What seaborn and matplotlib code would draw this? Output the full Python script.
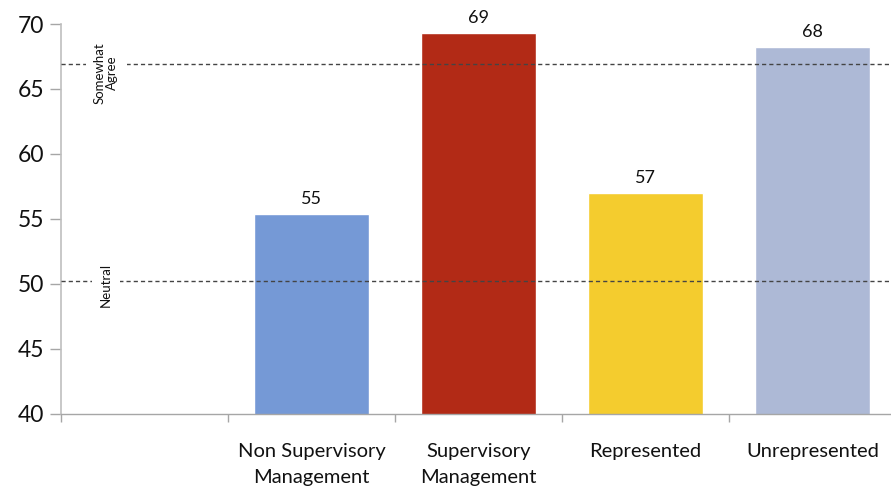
import matplotlib
matplotlib.use("Agg")
import matplotlib.pyplot as plt
import seaborn as sns
import pandas as pd

# Mean agreement score by employee group
categories = ["", "Non Supervisory\nManagement", "Supervisory\nManagement",
              "Represented", "Unrepresented"]
groups = ["Non Supervisory\nManagement", "Supervisory\nManagement",
          "Represented", "Unrepresented"]
scores = [55.4, 69.3, 57.0, 68.2]
bar_colors = ["#7599D6", "#B22A16", "#F4CC2E", "#ADB9D6"]

# Reference levels on the agreement scale
ref_levels = [66.9, 50.2]
ref_labels = ["Somewhat\nAgree", "Neutral"]

y_ticks = [40, 45, 50, 55, 60, 65, 70]

sns.set_theme(style="white")
plt.rcParams["font.family"] = ["Lato", "DejaVu Sans"]

df = pd.DataFrame({"group": groups, "score": scores})

fig = plt.figure(figsize=(8.91, 4.87), dpi=100)
ax = fig.add_axes([0.0685, 0.150, 0.9315, 0.8007])

sns.barplot(data=df, x="group", y="score", order=categories, hue="group",
            hue_order=groups, palette=dict(zip(groups, bar_colors)),
            width=0.69, saturation=1, legend=False, ax=ax, zorder=2)

for cont in ax.containers:
    ax.bar_label(cont, fmt="{:.0f}", padding=5, fontsize=13, color="#111111")

# Dashed reference lines, each with a rotated caption sitting just below it
label_shift = [-0.65, -0.3]
for lvl, lab, dy in zip(ref_levels, ref_labels, label_shift):
    ax.axhline(lvl, color="#444444", lw=1.0, ls=(0, (3, 2.2)), zorder=3)
    ax.text(-0.23, lvl + dy, lab, rotation=90, ha="center", va="center",
            fontsize=9.5, color="#111111", linespacing=1.05, zorder=4,
            bbox=dict(facecolor="white", edgecolor="none", pad=6))

ax.set_ylim(40, 70)
ax.set_xlim(-0.5, 4.47)
ax.set_yticks(y_ticks)
ax.set_yticklabels([str(t) for t in y_ticks], fontsize=16.5, color="#111111")

ax.set_xticks(range(len(categories)))
ax.set_xticklabels(categories, fontsize=14.5, color="#111111", linespacing=1.6)
ax.set_xticks([i - 0.5 for i in range(len(categories))], minor=True)
ax.tick_params(axis="x", which="major", length=0, pad=21)
ax.tick_params(axis="x", which="minor", length=6, width=1, color="#A6A6A6",
               direction="out", bottom=True)
ax.tick_params(axis="y", length=8, width=1, color="#A6A6A6", direction="out",
               left=True, pad=4)

ax.set_xlabel("")
ax.set_ylabel("")
for side in ["top", "right"]:
    ax.spines[side].set_visible(False)
ax.spines["left"].set_color("#BFBFBF")
ax.spines["bottom"].set_color("#A6A6A6")
ax.spines["left"].set_linewidth(1.2)
ax.spines["bottom"].set_linewidth(1.0)

fig.savefig("out.png", dpi=100)
